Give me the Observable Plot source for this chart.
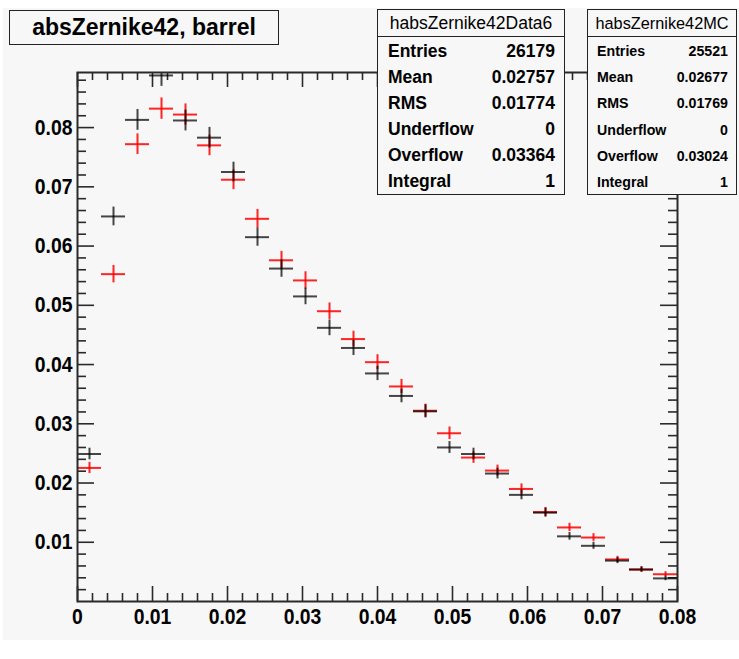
<!DOCTYPE html>
<html>
<head>
<meta charset="utf-8">
<script src="https://cdn.jsdelivr.net/npm/d3@7"></script>
<script src="https://cdn.jsdelivr.net/npm/@observablehq/plot@0.6"></script>
<style>
  html, body { margin: 0; padding: 0; background: #ffffff; }
  #wrap { position: relative; width: 739px; height: 659px; overflow: hidden; background: #ffffff;
          font-family: "Liberation Sans", Arial, sans-serif; color: #000; }
  #bg { position: absolute; left: 3px; top: 8px; width: 736px; height: 632px; background: #f7f7f7; }
  #wrap svg { position: absolute; left: 0; top: 0; }
  .box { position: absolute; box-sizing: border-box; border: 1px solid #222; background: #f7f7f7; }
  .title { left: 9px; top: 10px; width: 270px; height: 35px; font-weight: bold; font-size: 23px;
           display: flex; align-items: center; justify-content: center; }
  .stats { display: flex; flex-direction: column; }
  .stats .hdr { height: 26px; border-bottom: 1px solid #222; display: flex; align-items: center;
                justify-content: center; font-weight: normal; }
  .stats .row { flex: 1; display: flex; align-items: center; justify-content: space-between; font-weight: bold; }
  #s1 { left: 377px; top: 9px; width: 188px; height: 186px; }
  #s1 .hdr { font-size: 17.5px; }
  #s1 .row { font-size: 17.5px; padding: 2px 9px 0 10px; }
  #s2 { left: 587px; top: 9px; width: 150px; height: 186px; }
  #s2 .hdr { font-size: 16.3px; }
  #s2 .row { font-size: 14.2px; padding: 2px 8px 0 9px; }
</style>
</head>
<body>
<div id="wrap"><div id="bg"></div></div>
<script>
// ---- data ----
const titleText = "absZernike42, barrel";
const binCenters = [0.0016, 0.0048, 0.0080, 0.0112, 0.0144, 0.0176, 0.0208, 0.0240, 0.0272, 0.0304,
                    0.0336, 0.0368, 0.0400, 0.0432, 0.0464, 0.0496, 0.0528, 0.0560, 0.0592, 0.0624,
                    0.0656, 0.0688, 0.0720, 0.0752, 0.0784];
const binWidth = 0.0032;
// black: habsZernike42Data6
const dataValues = [0.0249, 0.0650, 0.0813, 0.0888, 0.0812, 0.0783, 0.0725, 0.0615, 0.0562, 0.0515,
                    0.0462, 0.0428, 0.0385, 0.0347, 0.0321, 0.0260, 0.0249, 0.0216, 0.0180, 0.0150,
                    0.0110, 0.0094, 0.0069, 0.0054, 0.0039];
const dataErrors = [0.00098, 0.00158, 0.00176, 0.00184, 0.00176, 0.00173, 0.00166, 0.00153, 0.00147, 0.00140,
                    0.00133, 0.00128, 0.00121, 0.00115, 0.00111, 0.00100, 0.00098, 0.00091, 0.00083, 0.00076,
                    0.00065, 0.00060, 0.00051, 0.00045, 0.00039];
// red: habsZernike42MC
const mcValues = [0.02255, 0.05526, 0.0772, 0.0832, 0.0822, 0.0770, 0.0712, 0.0646, 0.0576, 0.0542,
                  0.0490, 0.0443, 0.0404, 0.0363, 0.0322, 0.0284, 0.0243, 0.0221, 0.0190, 0.0151,
                  0.0125, 0.0108, 0.0071, 0.0054, 0.0046];
const mcErrors = [0.00094, 0.00147, 0.00174, 0.00181, 0.00180, 0.00174, 0.00167, 0.00159, 0.00150, 0.00146,
                  0.00139, 0.00132, 0.00126, 0.00119, 0.00112, 0.00106, 0.00098, 0.00093, 0.00086, 0.00077,
                  0.00070, 0.00065, 0.00053, 0.00046, 0.00043];
const xMajor = [0, 0.01, 0.02, 0.03, 0.04, 0.05, 0.06, 0.07, 0.08];
const xMinor = [0.002, 0.004, 0.006, 0.008, 0.012, 0.014, 0.016, 0.018, 0.022, 0.024, 0.026, 0.028,
                0.032, 0.034, 0.036, 0.038, 0.042, 0.044, 0.046, 0.048, 0.052, 0.054, 0.056, 0.058,
                0.062, 0.064, 0.066, 0.068, 0.072, 0.074, 0.076, 0.078];
const xLabels = ["0", "0.01", "0.02", "0.03", "0.04", "0.05", "0.06", "0.07", "0.08"];
const yMajor = [0.01, 0.02, 0.03, 0.04, 0.05, 0.06, 0.07, 0.08];
const yMinor = [0.002, 0.004, 0.006, 0.008, 0.012, 0.014, 0.016, 0.018, 0.022, 0.024, 0.026, 0.028,
                0.032, 0.034, 0.036, 0.038, 0.042, 0.044, 0.046, 0.048, 0.052, 0.054, 0.056, 0.058,
                0.062, 0.064, 0.066, 0.068, 0.072, 0.074, 0.076, 0.078, 0.082, 0.084, 0.086, 0.088];
const yLabels = ["0.01", "0.02", "0.03", "0.04", "0.05", "0.06", "0.07", "0.08"];
const statLabels = ["Entries", "Mean", "RMS", "Underflow", "Overflow", "Integral"];
const dataStatsName = "habsZernike42Data6";
const dataStats = ["26179", "0.02757", "0.01774", "0", "0.03364", "1"];
const mcStatsName = "habsZernike42MC";
const mcStats = ["25521", "0.02677", "0.01769", "0", "0.03024", "1"];

// ---- tables ----
const dataRows = binCenters.map((c, i) => ({lo: c - binWidth / 2, hi: c + binWidth / 2, x: c, v: dataValues[i], e: dataErrors[i]}));
const mcRows = binCenters.map((c, i) => ({lo: c - binWidth / 2, hi: c + binWidth / 2, x: c, v: mcValues[i], e: mcErrors[i]}));

const W = 739, H = 659, ML = 77, MR = 62, MT = 72, MB = 58;
const PW = W - ML - MR, PH = H - MT - MB;
const axisColor = "#2a2a2a";

function errMarks(rows, color, opacity) {
  return [
    Plot.ruleY(rows, {y: "v", x1: "lo", x2: "hi", stroke: color, strokeWidth: 2, strokeOpacity: opacity, clip: true}),
    Plot.ruleX(rows, {x: "x", y1: d => d.v - d.e, y2: d => d.v + d.e, stroke: color, strokeWidth: 2, strokeOpacity: opacity, clip: true})
  ];
}

const chart = Plot.plot({
  width: W, height: H,
  marginLeft: ML, marginRight: MR, marginTop: MT, marginBottom: MB,
  x: {domain: [0, 0.08], axis: null},
  y: {domain: [0, 0.0893], axis: null},
  style: {background: "transparent", fontFamily: "'Liberation Sans', Arial, sans-serif", fontSize: "22px", fontWeight: "bold", color: "#000", overflow: "visible"},
  marks: [
    // ticks (inward, ROOT style)
    Plot.tickY(yMajor, {y: d => d, insetRight: PW - 17, stroke: axisColor, strokeWidth: 1.6}),
    Plot.tickY(yMinor, {y: d => d, insetRight: PW - 9, stroke: axisColor, strokeWidth: 1.6}),
    Plot.tickY(yMajor, {y: d => d, insetLeft: PW - 17, stroke: axisColor, strokeWidth: 1.6}),
    Plot.tickY(yMinor, {y: d => d, insetLeft: PW - 9, stroke: axisColor, strokeWidth: 1.6}),
    Plot.tickX(xMajor, {x: d => d, insetTop: PH - 15, stroke: axisColor, strokeWidth: 1.6}),
    Plot.tickX(xMinor, {x: d => d, insetTop: PH - 8, stroke: axisColor, strokeWidth: 1.6}),
    Plot.tickX(xMajor, {x: d => d, insetBottom: PH - 15, stroke: axisColor, strokeWidth: 1.6}),
    Plot.tickX(xMinor, {x: d => d, insetBottom: PH - 8, stroke: axisColor, strokeWidth: 1.6}),
    // data
    ...errMarks(mcRows, "#ff0000", 0.85),
    ...errMarks(dataRows, "#000000", 0.72),
    Plot.frame({stroke: axisColor, strokeWidth: 2}),
    // tick labels
    Plot.text(xMajor, {x: d => d, text: (d, i) => xLabels[i], frameAnchor: "bottom", lineAnchor: "top", dy: 7, fill: "#000"}),
    Plot.text(yMajor, {y: d => d, text: (d, i) => yLabels[i], frameAnchor: "left", textAnchor: "end", dx: -5, fill: "#000"})
  ]
});

// condense tick-label glyphs horizontally (ROOT's narrow Helvetica look)
d3.select(chart).selectAll("text").each(function () {
  const tr = this.getAttribute("transform");
  if (tr) {
    this.setAttribute("transform", tr + " scale(0.88,1)");
  } else {
    const x = +this.getAttribute("x") || 0, y = +this.getAttribute("y") || 0;
    this.setAttribute("transform", `translate(${x},${y}) scale(0.88,1) translate(${-x},${-y})`);
  }
});

const wrap = document.getElementById("wrap");
wrap.appendChild(chart);

// title box
const t = document.createElement("div");
t.className = "box title";
t.textContent = titleText;
wrap.appendChild(t);

function statsBox(id, name, values) {
  const b = document.createElement("div");
  b.className = "box stats";
  b.id = id;
  const h = document.createElement("div");
  h.className = "hdr";
  h.textContent = name;
  b.appendChild(h);
  statLabels.forEach((lab, i) => {
    const r = document.createElement("div");
    r.className = "row";
    const a = document.createElement("span"); a.textContent = lab;
    const v = document.createElement("span"); v.textContent = values[i];
    r.appendChild(a); r.appendChild(v);
    b.appendChild(r);
  });
  wrap.appendChild(b);
}
statsBox("s1", dataStatsName, dataStats);
statsBox("s2", mcStatsName, mcStats);
</script>
</body>
</html>
